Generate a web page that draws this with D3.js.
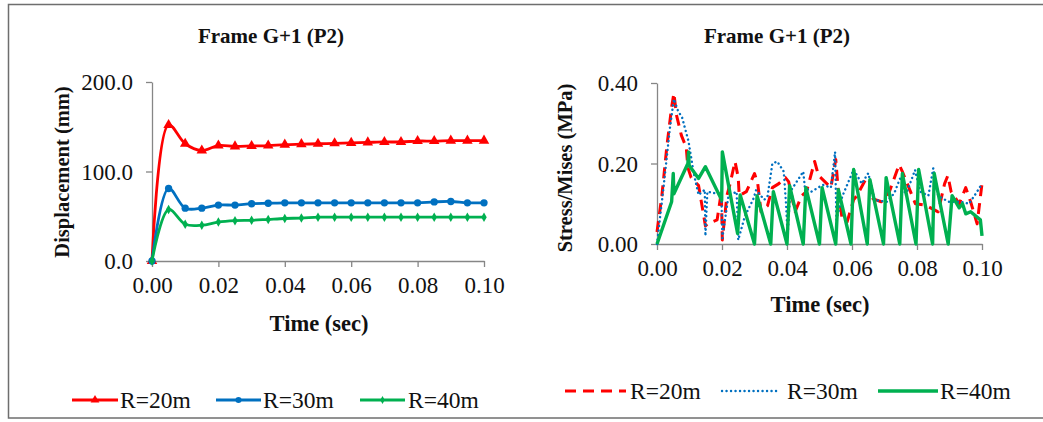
<!DOCTYPE html>
<html>
<head>
<meta charset="utf-8">
<script src="https://cdn.jsdelivr.net/npm/d3@7"></script>
<style>
  html, body { margin: 0; padding: 0; background: #fff; }
  svg { display: block; }
  text { font-family: "Liberation Serif", "Times New Roman", "DejaVu Serif", serif; fill: #111; }
</style>
</head>
<body>
<svg id="chart" width="1043" height="422"></svg>
<script>
// ---- Displacement (left panel) ----
const dispTime = [0, 0.005, 0.01, 0.015, 0.02, 0.025, 0.03, 0.035, 0.04, 0.045, 0.05,
                  0.055, 0.06, 0.065, 0.07, 0.075, 0.08, 0.085, 0.09, 0.095, 0.1];
const dispR20 = [0, 152, 131, 123.5, 129, 128, 128.5, 129, 130, 130.5, 131,
                 131.5, 132, 132.5, 133, 133, 134, 134, 134.5, 134.5, 134.5];
const dispR30 = [0, 81, 59, 59, 62.5, 62.5, 64, 64.5, 65, 65, 65,
                 65, 65, 65, 65, 65, 65, 66, 66.5, 65, 65];
const dispR40 = [0, 57.5, 41, 40, 43.5, 45, 45.5, 46.5, 47.5, 48, 49,
                 49, 49, 49, 49, 49, 49, 49, 49, 49, 49];
const dispYTicks = [0, 100, 200];
const timeTicks = [0, 0.02, 0.04, 0.06, 0.08, 0.1];

// ---- Von Mises stress (right panel) ----
const stressR20Time = [0, 0.0015, 0.003, 0.0045, 0.0052, 0.006, 0.0075, 0.009, 0.0095, 0.0105,
  0.0128, 0.0149, 0.0155, 0.0185, 0.0198, 0.0201, 0.0215, 0.0225, 0.024, 0.025,
  0.0253, 0.0275, 0.03, 0.031, 0.032, 0.034, 0.0355, 0.0375, 0.0395, 0.0405,
  0.0425, 0.0445, 0.046, 0.0485, 0.0497, 0.051, 0.0535, 0.055, 0.0557, 0.057,
  0.0585, 0.0605, 0.0615, 0.0645, 0.0655, 0.0665, 0.069, 0.0715, 0.0745, 0.0755,
  0.0775, 0.0795, 0.0825, 0.0865, 0.0885, 0.0895, 0.0905, 0.093, 0.095, 0.0965,
  0.0985, 0.1];
const stressR20 = [0.03, 0.12, 0.24, 0.34, 0.375, 0.32, 0.27, 0.24, 0.19, 0.165,
  0.145, 0.045, 0.05, 0.06, 0.13, 0.01, 0.12, 0.15, 0.205, 0.165,
  0.12, 0.13, 0.175, 0.15, 0.08, 0.095, 0.14, 0.15, 0.165, 0.155,
  0.08, 0.12, 0.13, 0.205, 0.17, 0.16, 0.14, 0.21, 0.14, 0.06,
  0.055, 0.11, 0.12, 0.165, 0.155, 0.112, 0.105, 0.13, 0.197, 0.18,
  0.14, 0.1, 0.097, 0.08, 0.15, 0.17, 0.13, 0.1, 0.14, 0.105,
  0.05, 0.15];

const stressR30Time = [0, 0.002, 0.004, 0.0052, 0.0065, 0.0077, 0.0097, 0.0113, 0.0128, 0.0147,
  0.0149, 0.0155, 0.0185, 0.0198, 0.0201, 0.022, 0.0245, 0.025, 0.027, 0.0297,
  0.0305, 0.033, 0.034, 0.0355, 0.037, 0.039, 0.0397, 0.0402, 0.041, 0.045,
  0.0455, 0.0475, 0.051, 0.0535, 0.0548, 0.0552, 0.057, 0.0605, 0.063, 0.065,
  0.067, 0.0707, 0.073, 0.075, 0.0765, 0.0794, 0.081, 0.0835, 0.085, 0.0865,
  0.0897, 0.0935, 0.096, 0.0985, 0.1];
const stressR30 = [0, 0.14, 0.29, 0.36, 0.33, 0.315, 0.255, 0.176, 0.122, 0.135,
  0.02, 0.13, 0.125, 0.13, 0.015, 0.12, 0.13, 0.01, 0.068, 0.113,
  0.134, 0.11, 0.118, 0.2, 0.205, 0.18, 0.1, 0.02, 0.13, 0.18,
  0.14, 0.13, 0.147, 0.14, 0.229, 0.06, 0.118, 0.185, 0.15, 0.176,
  0.109, 0.105, 0.126, 0.167, 0.12, 0.184, 0.13, 0.12, 0.188, 0.12,
  0.105, 0.105, 0.1, 0.13, 0.15];

const stressR40Time = [0, 0.0045, 0.005, 0.0052, 0.0095, 0.0097, 0.0099, 0.0128, 0.0149, 0.0199,
  0.0201, 0.0248, 0.0256, 0.03, 0.0308, 0.035, 0.0358, 0.04, 0.0408, 0.045,
  0.0458, 0.05, 0.0508, 0.055, 0.0558, 0.0597, 0.0605, 0.0647, 0.0655, 0.0697,
  0.0705, 0.0747, 0.0755, 0.0797, 0.0805, 0.0848, 0.0853, 0.0896, 0.0908, 0.093,
  0.094, 0.095, 0.0965, 0.0995, 0.1];
const stressR40 = [0, 0.105, 0.175, 0.125, 0.2, 0.229, 0.195, 0.163, 0.192, 0.109,
  0.229, 0.026, 0.122, 0, 0.12, 0, 0.13, 0, 0.145, 0,
  0.14, 0, 0.14, 0, 0.135, 0, 0.185, 0, 0.16, 0,
  0.165, 0, 0.175, 0, 0.185, 0, 0.175, 0, 0.12, 0.09,
  0.1, 0.075, 0.08, 0.06, 0.02];
const stressYTicks = [0, 0.2, 0.4];

const seriesNames = ["R=20m", "R=30m", "R=40m"];
const colors = ["#FF0000", "#0070C0", "#00B050"];

const svg = d3.select("#chart");
const axisGrey = "#868686";
const serif = '"Liberation Serif","Times New Roman","DejaVu Serif",serif';

// outer frame
svg.append("rect")
  .attr("x", 8.5).attr("y", 4.5).attr("width", 1040).attr("height", 413.5)
  .attr("fill", "none").attr("stroke", "#6e6e6e").attr("stroke-width", 1.5);

function styleAxis(g) {
  g.attr("font-family", serif);
  g.select(".domain").attr("stroke", axisGrey).attr("stroke-width", 1.3);
  g.selectAll(".tick line").attr("stroke", axisGrey).attr("stroke-width", 1.3);
  g.selectAll(".tick text").attr("font-size", 23).attr("fill", "#111");
}

// ================= Left panel: displacement =================
const xL = d3.scaleLinear().domain([0, 0.1]).range([152, 484]);
const yL = d3.scaleLinear().domain([0, 200]).range([261, 82]);

svg.append("g").attr("transform", `translate(0,${yL(0)})`)
  .call(d3.axisBottom(xL).tickValues(timeTicks).tickFormat(d3.format(".2f"))
    .tickSize(6).tickSizeOuter(0).tickPadding(10))
  .call(styleAxis);
svg.append("g").attr("transform", `translate(${xL(0)},0)`)
  .call(d3.axisLeft(yL).tickValues(dispYTicks).tickFormat(d3.format(".1f"))
    .tickSize(6).tickSizeOuter(0).tickPadding(13))
  .call(g => { styleAxis(g); g.selectAll(".tick text").attr("dy", "0.34em"); });

const dispSeries = [dispR20, dispR30, dispR40];
const markerTypes = [d3.symbolTriangle, d3.symbolCircle, d3.symbolDiamond];
const markerSizes = [48, 42, 26];

const lineL = d3.line()
  .x((d, i) => xL(dispTime[i]))
  .y(d => yL(d))
  .curve(d3.curveCatmullRom.alpha(0.5));

dispSeries.forEach((vals, k) => {
  svg.append("path").datum(vals)
    .attr("d", lineL)
    .attr("fill", "none").attr("stroke", colors[k])
    .attr("stroke-width", 2.8).attr("stroke-linejoin", "round");
  svg.append("g").selectAll("path").data(vals).join("path")
    .attr("transform", (d, i) => `translate(${xL(dispTime[i])},${yL(d)})`)
    .attr("d", d3.symbol().type(markerTypes[k]).size(markerSizes[k]))
    .attr("fill", colors[k]);
});

svg.append("text").attr("x", 271).attr("y", 43).attr("text-anchor", "middle")
  .attr("font-size", 21).attr("font-weight", "bold").text("Frame G+1 (P2)");
svg.append("text").attr("transform", "translate(69,172) rotate(-90)")
  .attr("text-anchor", "middle").attr("font-size", 20.5).attr("font-weight", "bold")
  .text("Displacement (mm)");
svg.append("text").attr("x", 319).attr("y", 331).attr("text-anchor", "middle")
  .attr("font-size", 22.5).attr("font-weight", "bold").text("Time (sec)");

// legend with markers
const legL = [{x0: 72, x1: 118, tx: 120}, {x0: 216, x1: 261, tx: 263}, {x0: 360, x1: 405, tx: 408}];
legL.forEach((p, k) => {
  const g = svg.append("g");
  g.append("line").attr("x1", p.x0).attr("x2", p.x1).attr("y1", 400).attr("y2", 400)
    .attr("stroke", colors[k]).attr("stroke-width", 3);
  g.append("path").attr("transform", `translate(${(p.x0 + p.x1) / 2},400)`)
    .attr("d", d3.symbol().type(markerTypes[k]).size(markerSizes[k] * 0.7))
    .attr("fill", colors[k]);
  g.append("text").attr("x", p.tx).attr("y", 408).attr("font-size", 23.5)
    .text(seriesNames[k]);
});

// ================= Right panel: stress =================
const xR = d3.scaleLinear().domain([0, 0.1]).range([657, 982]);
const yR = d3.scaleLinear().domain([0, 0.4]).range([244, 83]);

svg.append("g").attr("transform", `translate(0,${yR(0)})`)
  .call(d3.axisBottom(xR).tickValues(timeTicks).tickFormat(d3.format(".2f"))
    .tickSize(6).tickSizeOuter(0).tickPadding(10))
  .call(styleAxis);
svg.append("g").attr("transform", `translate(${xR(0)},0)`)
  .call(d3.axisLeft(yR).tickValues(stressYTicks).tickFormat(d3.format(".2f"))
    .tickSize(6).tickSizeOuter(0).tickPadding(13))
  .call(g => { styleAxis(g); g.selectAll(".tick text").attr("dy", "0.34em"); });

const stressSeries = [
  {t: stressR20Time, v: stressR20, dash: "11,7", cap: "butt", w: 3},
  {t: stressR30Time, v: stressR30, dash: "0.1,4.4", cap: "round", w: 2.4},
  {t: stressR40Time, v: stressR40, dash: null, cap: "butt", w: 3.4}
];

stressSeries.forEach((s, k) => {
  const line = d3.line().x((d, i) => xR(s.t[i])).y(d => yR(d));
  svg.append("path").datum(s.v)
    .attr("d", line)
    .attr("fill", "none").attr("stroke", colors[k])
    .attr("stroke-width", s.w)
    .attr("stroke-linecap", s.cap).attr("stroke-linejoin", "round")
    .attr("stroke-dasharray", s.dash);
});

svg.append("text").attr("x", 777).attr("y", 43).attr("text-anchor", "middle")
  .attr("font-size", 21).attr("font-weight", "bold").text("Frame G+1 (P2)");
svg.append("text").attr("transform", "translate(572,168) rotate(-90)")
  .attr("text-anchor", "middle").attr("font-size", 20.5).attr("font-weight", "bold")
  .text("Stress/Mises (MPa)");
svg.append("text").attr("x", 820).attr("y", 312).attr("text-anchor", "middle")
  .attr("font-size", 22.5).attr("font-weight", "bold").text("Time (sec)");

const legR = [{x0: 565, x1: 626, tx: 630}, {x0: 722, x1: 779, tx: 787}, {x0: 878, x1: 938, tx: 940}];
legR.forEach((p, k) => {
  const s = stressSeries[k];
  const g = svg.append("g");
  g.append("line").attr("x1", p.x0).attr("x2", p.x1).attr("y1", 391).attr("y2", 391)
    .attr("stroke", colors[k]).attr("stroke-width", s.w)
    .attr("stroke-linecap", s.cap).attr("stroke-dasharray", s.dash);
  g.append("text").attr("x", p.tx).attr("y", 399).attr("font-size", 23.5)
    .text(seriesNames[k]);
});
</script>
</body>
</html>
